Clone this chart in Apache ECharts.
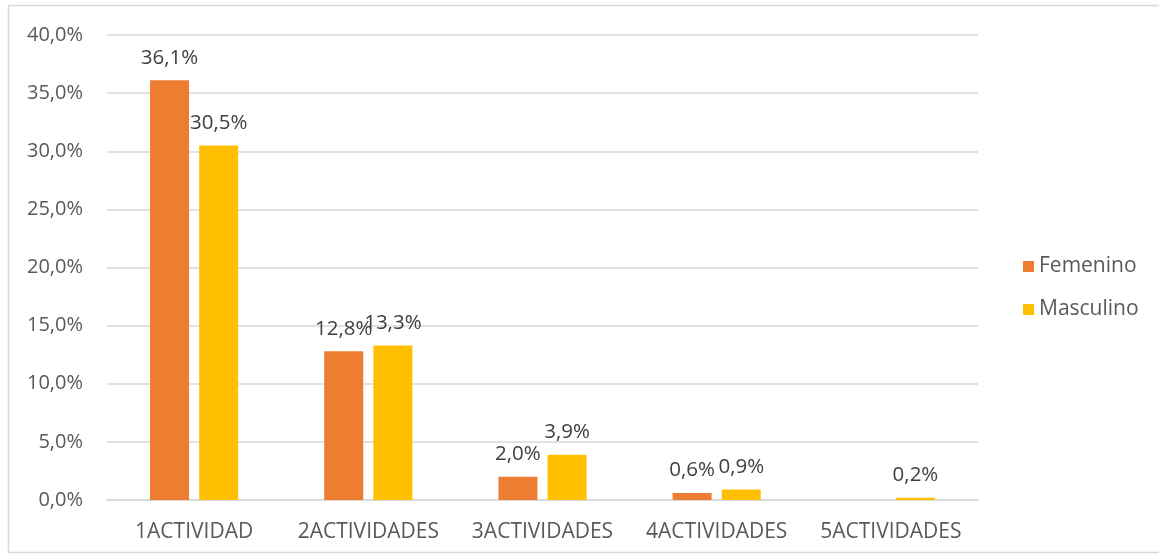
<!DOCTYPE html>
<html>
<head>
<meta charset="utf-8">
<script src="https://cdn.jsdelivr.net/npm/echarts@6/dist/echarts.min.js"></script>
<style>
  html, body { margin: 0; padding: 0; background: #fff; }
  #chart { width: 1159px; height: 558px; }
</style>
</head>
<body>
<div id="chart"></div>
<script>
// Number of activities by sex (percent)
const categories = ['1ACTIVIDAD', '2ACTIVIDADES', '3ACTIVIDADES', '4ACTIVIDADES', '5ACTIVIDADES'];
const femenino = [36.1, 12.8, 2.0, 0.6, null];
const masculino = [30.5, 13.3, 3.9, 0.9, 0.2];
const seriesNames = ['Femenino', 'Masculino'];

const FONT = '"Open Sans", "Liberation Sans", sans-serif';
const TEXT = '#595959';

const fmt1 = v => v.toFixed(1).replace('.', ',') + '%';

const labelCfg = {
  show: true,
  position: 'top',
  distance: 12,
  color: '#404040',
  fontFamily: FONT,
  fontSize: 20.5,
  formatter: p => fmt1(p.value)
};

const chart = echarts.init(document.getElementById('chart'), null, { renderer: 'canvas' });
chart.setOption({
  animation: false,
  textStyle: { fontFamily: FONT },
  graphic: [{
    type: 'rect',
    shape: { x: 8.5, y: 5.5, width: 1160, height: 547 },
    style: { fill: 'none', stroke: '#d9d9d9', lineWidth: 1.5 },
    silent: true
  }],
  grid: { left: 107, right: 181, top: 35, bottom: 58 },
  legend: {
    orient: 'vertical',
    left: 1018,
    top: 251,
    itemWidth: 11,
    itemHeight: 11,
    itemGap: 22,
    icon: 'rect',
    textStyle: { color: TEXT, fontSize: 21, fontFamily: FONT },
    data: seriesNames
  },
  xAxis: {
    type: 'category',
    data: categories,
    axisLine: { lineStyle: { color: '#d9d9d9', width: 1.5 } },
    axisTick: { show: false },
    axisLabel: { color: TEXT, fontSize: 21, fontFamily: FONT, margin: 22, interval: 0, hideOverlap: false }
  },
  yAxis: {
    type: 'value',
    min: 0,
    max: 40,
    interval: 5,
    axisLine: { show: false },
    axisTick: { show: false },
    splitLine: { lineStyle: { color: '#d9d9d9', width: 1.5 } },
    axisLabel: { color: TEXT, fontSize: 20, fontFamily: FONT, margin: 24, formatter: v => fmt1(v) }
  },
  series: [
    {
      name: seriesNames[0],
      type: 'bar',
      data: femenino,
      barWidth: 39,
      barGap: '26%',
      itemStyle: { color: '#ED7D31' },
      label: labelCfg
    },
    {
      name: seriesNames[1],
      type: 'bar',
      data: masculino,
      barWidth: 39,
      itemStyle: { color: '#FFC000' },
      label: labelCfg
    }
  ]
});
</script>
</body>
</html>
